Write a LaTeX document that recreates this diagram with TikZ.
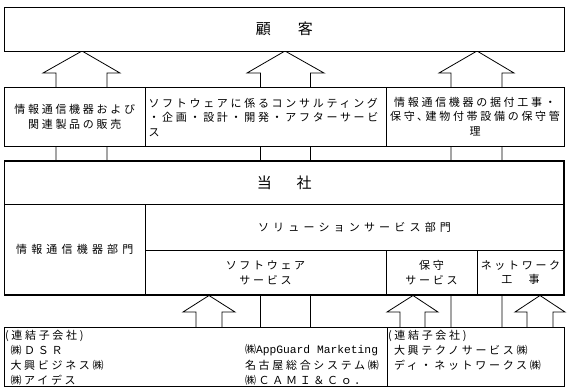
\documentclass[tikz,border=0pt]{standalone}
\usepackage{fontspec}
\newfontfamily\jp[LetterSpace=24.5]{Noto Sans CJK JP}
\newfontfamily\jpwide[LetterSpace=38]{Noto Sans CJK JP}
\newfontfamily\jpbig{Noto Sans CJK JP}
\newfontfamily\lmono{Liberation Mono}
\newcommand\txtfont{\jp\fontsize{11bp}{14.8bp}\selectfont}
\newcommand\widefont{\jpwide\fontsize{11bp}{14.8bp}\selectfont}
\newcommand\bigfont{\jpbig\fontsize{15bp}{18bp}\selectfont}
\tikzset{
  cell/.style={draw=black, line width=0.8bp, fill=white, inner sep=0pt, outer sep=0pt,
    anchor=north west, align=center, font=\txtfont},
  blockarrow/.style={draw=black, line width=0.8bp, fill=white, line join=miter},
  lbl/.style={inner sep=0pt, outer sep=0pt, font=\txtfont},
}
\begin{document}
\begin{tikzpicture}[x=1bp, y=-1bp]
\useasboundingbox[fill=white] (0,0) rectangle (568,389);

% top block arrows (shafts run behind the boxes)
\draw[blockarrow] (56,161) -- (56,73) -- (43,73) -- (82,51) -- (120,73) -- (107,73) -- (107,161);
\draw[blockarrow] (260.5,327) -- (260.5,73) -- (247,73) -- (285,51) -- (324,73) -- (310.5,73) -- (310.5,327);
\draw[blockarrow] (451,327) -- (451,73) -- (439,73) -- (477,51) -- (514,73) -- (502,73) -- (502,327);

% bottom block arrows
\draw[blockarrow] (196,327) -- (196,312) -- (183,312) -- (209,295.5) -- (235,312) -- (222,312) -- (222,327);
\draw[blockarrow] (400,327) -- (400,312) -- (387,312) -- (413,295.5) -- (438,312) -- (425,312) -- (425,327);
\draw[blockarrow] (527,327) -- (527,312) -- (515,312) -- (540,295.5) -- (565,312) -- (553,312) -- (553,327);

% customers
\node[cell, minimum width=559.5bp, minimum height=44bp, font=\bigfont] (kokyaku) at (4.5,7) {顧\hspace{27bp}客};

% business row
\node[cell, minimum width=140.5bp, minimum height=59bp] (sales) at (4.5,87) {情報通信機器および\\関連製品の販売};
\node[cell, minimum width=241bp, minimum height=59bp] (soft) at (145,87) {};
\node[lbl, anchor=west, align=left] (softtxt) at (148.5,117.5) {ソフトウェアに係るコンサルティング\\・企画・設計・開発・アフターサービ\\ス};
\node[cell, minimum width=178bp, minimum height=59bp] (maint) at (386,87) {情報通信機器の据付工事・\\保守､建物付帯設備の保守管\\理};

% company
\node[cell, minimum width=559.5bp, minimum height=43bp, font=\bigfont] (tosha) at (4.5,161) {当\hspace{25bp}社};
\node[cell, minimum width=140.5bp, minimum height=91bp, font=\widefont] (dept1) at (4.5,204) {情報通信機器部門};
\node[cell, minimum width=419bp, minimum height=46bp, font=\widefont] (dept2) at (145,204) {ソリューションサービス部門};
\node[cell, minimum width=241bp, minimum height=45bp] (sw) at (145,250) {ソフトウェア\\サービス};
\node[cell, minimum width=91bp, minimum height=45bp] (hs) at (386,250) {保守\\サービス};
\node[cell, minimum width=87bp, minimum height=45bp] (nw) at (477,250) {ネットワーク\\工　事};
\draw[line width=1.8bp] (tosha.north west) rectangle (nw.south east);

% subsidiaries
\node[cell, minimum width=382.5bp, minimum height=59bp] (sub1) at (4.5,327) {};
\node[cell, minimum width=177bp, minimum height=59bp] (sub2) at (387,327) {};

\node[lbl, anchor=west] (s1a) at (5,335.5) {(連結子会社)};
\node[lbl, anchor=west] (s1b) at (10.5,350.3) {㈱ＤＳＲ};
\node[lbl, anchor=west] (s1c) at (10.5,365.1) {大興ビジネス㈱};
\node[lbl, anchor=west] (s1d) at (10.5,379.9) {㈱アイデス};
\node[lbl, anchor=west] (s1e) at (245,350.3) {㈱{\lmono\fontsize{11.3bp}{14bp}\selectfont AppGuard Marketing}};
\node[lbl, anchor=west] (s1f) at (245,365.1) {名古屋総合システム㈱};
\node[lbl, anchor=west] (s1g) at (245,379.9) {㈱ＣＡＭＩ＆Ｃｏ．};

\node[lbl, anchor=west] (s2a) at (388,335.5) {(連結子会社)};
\node[lbl, anchor=west] (s2b) at (394,350.3) {大興テクノサービス㈱};
\node[lbl, anchor=west] (s2c) at (394,365.1) {ディ・ネットワークス㈱};
\end{tikzpicture}
\end{document}
